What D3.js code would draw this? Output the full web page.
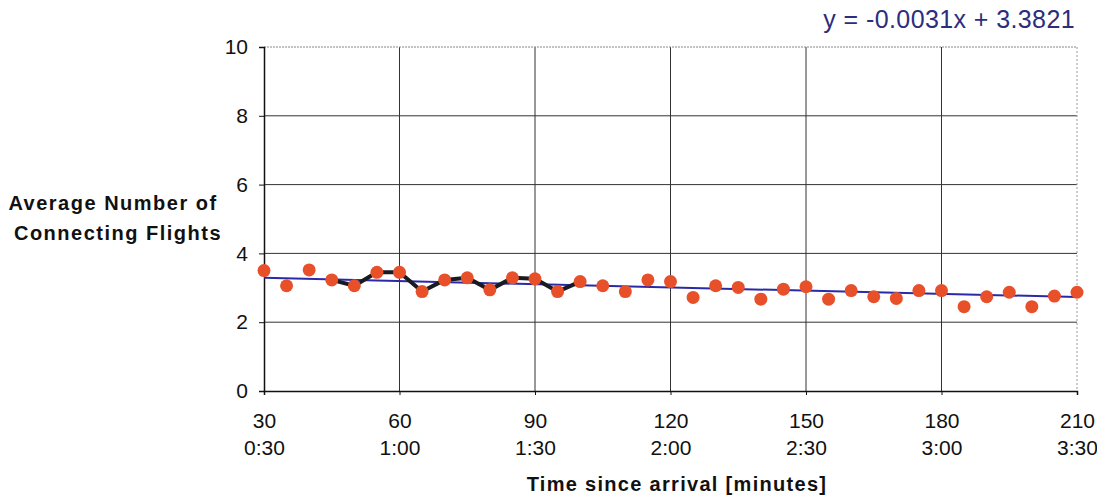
<!DOCTYPE html>
<html><head><meta charset="utf-8">
<script src="https://cdn.jsdelivr.net/npm/d3@7"></script>
<style>body{margin:0;background:#fff}svg{display:block}</style>
</head><body><svg id="c" width="1097" height="498"></svg>
<script>
const minutes = [30,35,40,45,50,55,60,65,70,75,80,85,90,95,100,105,110,115,120,125,130,135,140,145,150,155,160,165,170,175,180,185,190,195,200,205,210];
const avgFlights = [3.50,3.06,3.52,3.23,3.06,3.45,3.45,2.89,3.23,3.29,2.94,3.29,3.26,2.89,3.18,3.06,2.89,3.23,3.18,2.72,3.06,3.01,2.67,2.96,3.03,2.67,2.92,2.74,2.69,2.92,2.92,2.45,2.74,2.87,2.45,2.76,2.87];
const lineMinutes = [45,50,55,60,65,70,75,80,85,90,95,100];
const xTicks = [30,60,90,120,150,180,210];
const xTickLabels2 = ["0:30","1:00","1:30","2:00","2:30","3:00","3:30"];
const yTicks = [0,2,4,6,8,10];
const trendSlope = -0.0031, trendIntercept = 3.3821;
const trendLabel = "y = -0.0031x + 3.3821";

const svg = d3.select("#c");
const x = d3.scaleLinear().domain([30,210]).range([264,1077]);
const y = d3.scaleLinear().domain([0,10]).range([391,47]);
const font = "Arial, 'Liberation Sans', sans-serif";

// gridlines
svg.append("g").selectAll("line").data(yTicks.slice(1,-1)).join("line")
  .attr("x1",x(30)).attr("x2",x(210)).attr("y1",d=>y(d)).attr("y2",d=>y(d))
  .attr("stroke","#333").attr("stroke-width",1);
svg.append("g").selectAll("line").data(xTicks.slice(1,-1)).join("line")
  .attr("x1",d=>x(d)).attr("x2",d=>x(d)).attr("y1",y(0)).attr("y2",y(10))
  .attr("stroke","#333").attr("stroke-width",1);
// top and right border dotted
svg.append("line").attr("x1",x(30)).attr("x2",x(210)).attr("y1",y(10)).attr("y2",y(10))
  .attr("stroke","#888").attr("stroke-dasharray","2,1");
svg.append("line").attr("x1",x(210)).attr("x2",x(210)).attr("y1",y(10)).attr("y2",y(0))
  .attr("stroke","#999").attr("stroke-dasharray","2,2");

// axes
const yAxis = d3.axisLeft(y).tickValues(yTicks).tickSize(5).tickPadding(11);
const gy = svg.append("g").attr("transform",`translate(${x(30)},0)`).call(yAxis);
gy.select(".domain").attr("stroke","#111").attr("stroke-width",1.5);
gy.selectAll(".tick line").attr("stroke","#111");
gy.selectAll("text").attr("font-family",font).attr("font-size",21).attr("fill","#111");

const xAxis = d3.axisBottom(x).tickValues(xTicks).tickSize(4).tickFormat(()=> "");
const gx = svg.append("g").attr("transform",`translate(0,${y(0)})`).call(xAxis);
gx.select(".domain").attr("stroke","#111").attr("stroke-width",1.5);
gx.selectAll(".tick line").attr("stroke","#111");
gx.selectAll(".tick").each(function(d,i){
  const t = d3.select(this).append("text").attr("font-family",font).attr("font-size",21)
    .attr("fill","#111").attr("text-anchor","middle");
  t.append("tspan").attr("x",0).attr("y",37).text(d);
  t.append("tspan").attr("x",0).attr("y",64).text(xTickLabels2[i]);
});

// trend line
svg.append("line").attr("x1",x(30)).attr("x2",x(210))
  .attr("y1",y(trendSlope*30+trendIntercept)).attr("y2",y(trendSlope*210+trendIntercept))
  .attr("stroke","#2a2aa8").attr("stroke-width",2);

// black line segment
const lineData = minutes.map((m,i)=>[m,avgFlights[i]]).filter(d=>lineMinutes.includes(d[0]));
svg.append("path").datum(lineData)
  .attr("d",d3.line().x(d=>x(d[0])).y(d=>y(d[1])))
  .attr("fill","none").attr("stroke","#1a1a22").attr("stroke-width",4).attr("stroke-linejoin","round");

// points
svg.append("g").selectAll("circle").data(minutes).join("circle")
  .attr("cx",d=>x(d)).attr("cy",(d,i)=>y(avgFlights[i])).attr("r",6.5)
  .attr("fill","#e8502a");

// labels
svg.append("text").attr("x",1075).attr("y",28).attr("text-anchor","end")
  .attr("font-family",font).attr("font-size",25).attr("fill","#2b2e7c")
  .attr("letter-spacing",0.4).text(trendLabel);
const yl = svg.append("text").attr("font-family",font).attr("font-size",20).attr("font-weight","bold")
  .attr("fill","#111").attr("text-anchor","middle").attr("letter-spacing",1.5);
yl.append("tspan").attr("x",113).attr("y",210).text("Average Number of");
yl.append("tspan").attr("x",118).attr("y",240).text("Connecting Flights");
svg.append("text").attr("x",677).attr("y",491).attr("text-anchor","middle")
  .attr("font-family",font).attr("font-size",20).attr("font-weight","bold").attr("fill","#111")
  .attr("letter-spacing",1.3)
  .text("Time since arrival [minutes]");
</script></body></html>
